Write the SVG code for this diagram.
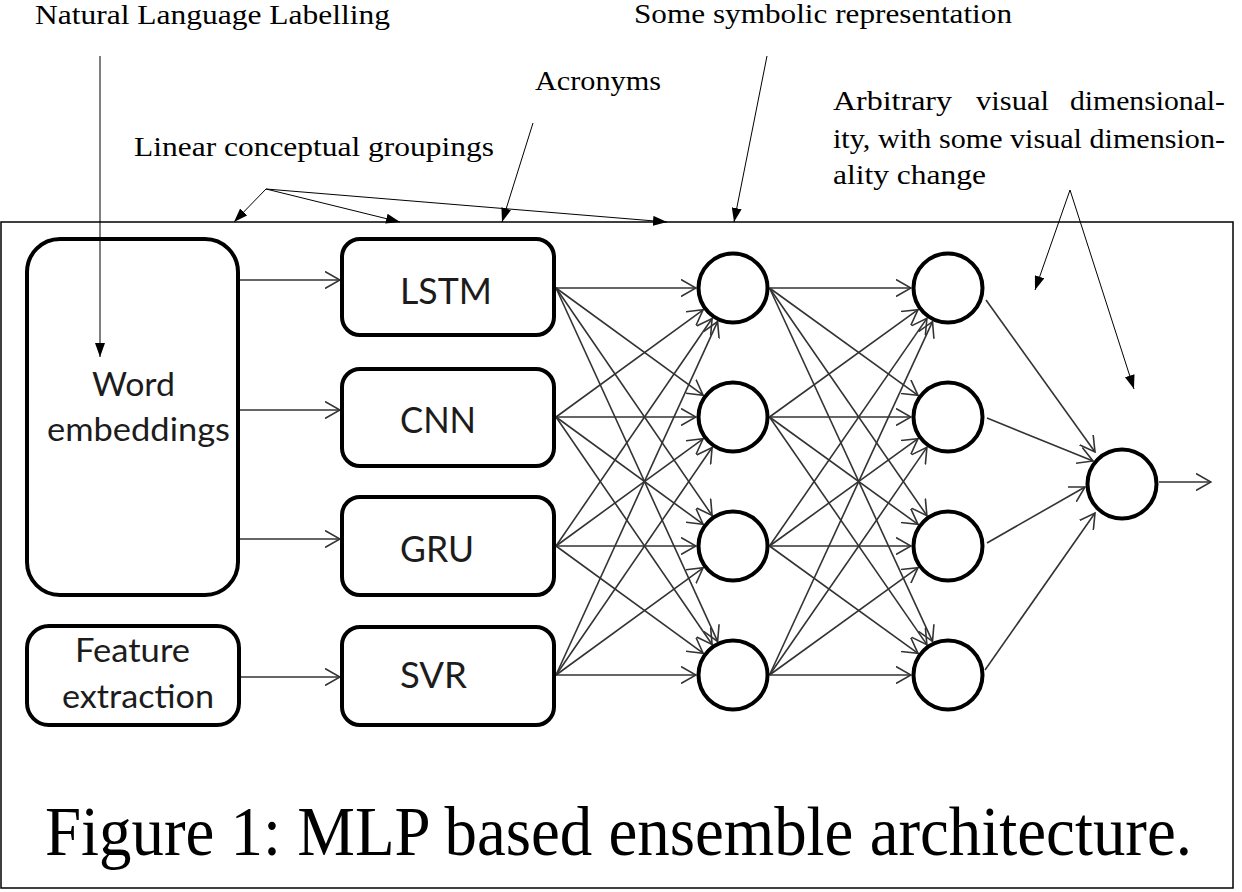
<svg xmlns="http://www.w3.org/2000/svg" width="1242" height="892" viewBox="0 0 1242 892">
<defs>
<style>
.frame{fill:none;stroke:#000;stroke-width:1.5}
.box{fill:#fff;stroke:#000;stroke-width:4}
.neuron{fill:#fff;stroke:#000;stroke-width:4}
.lbl{font-family:Lato,"Open Sans","Liberation Sans",sans-serif;font-size:33px;fill:#1c1c1c;text-anchor:start}
.ann{font-family:"Liberation Serif","Times New Roman",serif;font-size:27px;fill:#000}
.cap{font-family:"Liberation Serif","Times New Roman",serif;font-size:64px;fill:#000}
.edge{stroke:#333;stroke-width:1.6;fill:none;marker-end:url(#open)}
.note{stroke:#000;stroke-width:1;fill:none;marker-end:url(#solid)}
</style>
<marker id="open" markerUnits="userSpaceOnUse" viewBox="0 0 16 18" refX="15" refY="9" markerWidth="16" markerHeight="18" orient="auto">
<path d="M0,0.5 L15,9 L0,17.5" fill="none" stroke="#333" stroke-width="1.6"/>
</marker>
<marker id="solid" markerUnits="userSpaceOnUse" viewBox="0 0 14 10" refX="14" refY="5" markerWidth="14" markerHeight="10" orient="auto">
<path d="M0,0 L14,5 L0,10 z" fill="#000"/>
</marker>
</defs>
<rect width="1242" height="892" fill="#fff"/>
<rect class="frame" x="1" y="222" width="1232" height="666"/>

<g id="connectors">
<line class="edge" x1="240" y1="280" x2="340" y2="280"/>
<line class="edge" x1="240" y1="410" x2="340" y2="410"/>
<line class="edge" x1="240" y1="539" x2="340" y2="539"/>
<line class="edge" x1="241" y1="677" x2="340" y2="677"/>

<line class="edge" x1="556" y1="288" x2="696" y2="288"/>
<line class="edge" x1="556" y1="288" x2="703.1" y2="395.2"/>
<line class="edge" x1="556" y1="288" x2="712.1" y2="515.5"/>
<line class="edge" x1="556" y1="288" x2="717.6" y2="641.4"/>
<line class="edge" x1="556" y1="417" x2="703.1" y2="309.8"/>
<line class="edge" x1="556" y1="417" x2="696" y2="417"/>
<line class="edge" x1="556" y1="417" x2="703.1" y2="524.2"/>
<line class="edge" x1="556" y1="417" x2="712.1" y2="644.5"/>
<line class="edge" x1="556" y1="546" x2="712.1" y2="318.5"/>
<line class="edge" x1="556" y1="546" x2="703.1" y2="438.8"/>
<line class="edge" x1="556" y1="546" x2="696" y2="546"/>
<line class="edge" x1="556" y1="546" x2="703.1" y2="653.2"/>
<line class="edge" x1="556" y1="675" x2="717.6" y2="321.6"/>
<line class="edge" x1="556" y1="675" x2="712.1" y2="447.5"/>
<line class="edge" x1="556" y1="675" x2="703.1" y2="567.8"/>
<line class="edge" x1="556" y1="675" x2="696" y2="675"/>

<line class="edge" x1="769.5" y1="288" x2="911" y2="288"/>
<line class="edge" x1="769.5" y1="288" x2="918" y2="395.4"/>
<line class="edge" x1="769.5" y1="288" x2="926.9" y2="515.6"/>
<line class="edge" x1="769.5" y1="288" x2="932.5" y2="641.4"/>
<line class="edge" x1="769.5" y1="417" x2="918" y2="309.6"/>
<line class="edge" x1="769.5" y1="417" x2="911" y2="417"/>
<line class="edge" x1="769.5" y1="417" x2="918" y2="524.4"/>
<line class="edge" x1="769.5" y1="417" x2="926.9" y2="644.6"/>
<line class="edge" x1="769.5" y1="546" x2="926.9" y2="318.4"/>
<line class="edge" x1="769.5" y1="546" x2="918" y2="438.6"/>
<line class="edge" x1="769.5" y1="546" x2="911" y2="546"/>
<line class="edge" x1="769.5" y1="546" x2="918" y2="653.4"/>
<line class="edge" x1="769.5" y1="675" x2="932.5" y2="321.6"/>
<line class="edge" x1="769.5" y1="675" x2="926.9" y2="447.4"/>
<line class="edge" x1="769.5" y1="675" x2="918" y2="567.6"/>
<line class="edge" x1="769.5" y1="675" x2="911" y2="675"/>

<line class="edge" x1="986" y1="300" x2="1095" y2="452"/>
<line class="edge" x1="987" y1="418" x2="1093" y2="461"/>
<line class="edge" x1="987" y1="543" x2="1085" y2="487"/>
<line class="edge" x1="985" y1="670" x2="1095" y2="513"/>

<line class="edge" x1="1159" y1="482" x2="1211" y2="482"/>
</g>

<g id="word-embeddings">
<rect class="box" x="27" y="239" width="211" height="356" rx="33"/>
<text class="lbl" x="92" y="396" textLength="83" lengthAdjust="spacingAndGlyphs">Word</text>
<text class="lbl" x="47" y="441" textLength="183" lengthAdjust="spacingAndGlyphs">embeddings</text>
</g>
<g id="feature-extraction">
<rect class="box" x="27" y="626" width="212" height="99" rx="22"/>
<text class="lbl" x="75" y="662" textLength="115" lengthAdjust="spacingAndGlyphs">Feature</text>
<text class="lbl" x="62" y="708" textLength="152" lengthAdjust="spacingAndGlyphs">extraction</text>
</g>
<g id="lstm">
<rect class="box" x="342" y="239" width="212" height="96" rx="18"/>
<text class="lbl" x="400" y="304" style="font-size:36px" textLength="92" lengthAdjust="spacingAndGlyphs">LSTM</text>
</g>
<g id="cnn">
<rect class="box" x="342" y="369" width="212" height="97" rx="18"/>
<text class="lbl" x="400" y="433" style="font-size:36px" textLength="76" lengthAdjust="spacingAndGlyphs">CNN</text>
</g>
<g id="gru">
<rect class="box" x="342" y="497" width="212" height="98" rx="18"/>
<text class="lbl" x="400" y="562" style="font-size:36px" textLength="74" lengthAdjust="spacingAndGlyphs">GRU</text>
</g>
<g id="svr">
<rect class="box" x="342" y="627" width="212" height="98" rx="18"/>
<text class="lbl" x="400" y="688" style="font-size:36px" textLength="67" lengthAdjust="spacingAndGlyphs">SVR</text>
</g>

<g id="h1-1"><circle class="neuron" cx="733" cy="288" r="34.5"/></g>
<g id="h1-2"><circle class="neuron" cx="733" cy="417" r="34.5"/></g>
<g id="h1-3"><circle class="neuron" cx="733" cy="546" r="34.5"/></g>
<g id="h1-4"><circle class="neuron" cx="733" cy="675" r="34.5"/></g>
<g id="h2-1"><circle class="neuron" cx="948" cy="288" r="34.5"/></g>
<g id="h2-2"><circle class="neuron" cx="948" cy="417" r="34.5"/></g>
<g id="h2-3"><circle class="neuron" cx="948" cy="546" r="34.5"/></g>
<g id="h2-4"><circle class="neuron" cx="948" cy="675" r="34.5"/></g>
<g id="output"><circle class="neuron" cx="1122" cy="484" r="34.5"/></g>

<g id="annotation-connectors">
<line class="note" x1="100" y1="56" x2="100" y2="357"/>
<line class="note" x1="266" y1="189" x2="234" y2="222"/>
<line class="note" x1="266" y1="189" x2="400" y2="222"/>
<line class="note" x1="266" y1="189" x2="667" y2="222"/>
<line class="note" x1="533" y1="123" x2="502" y2="222"/>
<line class="note" x1="767" y1="56" x2="734" y2="222"/>
<line class="note" x1="1070" y1="190" x2="1035" y2="290"/>
<line class="note" x1="1070" y1="190" x2="1134" y2="389"/>
</g>

<g id="ann-natural-language">
<text class="ann" x="35" y="24" textLength="355" lengthAdjust="spacingAndGlyphs">Natural Language Labelling</text>
</g>
<g id="ann-symbolic">
<text class="ann" x="634" y="23" textLength="378" lengthAdjust="spacingAndGlyphs">Some symbolic representation</text>
</g>
<g id="ann-acronyms">
<text class="ann" x="535" y="90" textLength="126" lengthAdjust="spacingAndGlyphs">Acronyms</text>
</g>
<g id="ann-linear">
<text class="ann" x="134" y="156" textLength="360" lengthAdjust="spacingAndGlyphs">Linear conceptual groupings</text>
</g>
<g id="ann-arbitrary">
<text class="ann" x="833" y="110" textLength="119" lengthAdjust="spacingAndGlyphs">Arbitrary</text>
<text class="ann" x="976" y="110" textLength="73" lengthAdjust="spacingAndGlyphs">visual</text>
<text class="ann" x="1070" y="110" textLength="155" lengthAdjust="spacingAndGlyphs">dimensional-</text>
<text class="ann" x="833" y="148" textLength="392" lengthAdjust="spacingAndGlyphs">ity, with some visual dimension-</text>
<text class="ann" x="833" y="184" textLength="153" lengthAdjust="spacingAndGlyphs">ality change</text>
</g>

<g id="caption">
<text class="cap" transform="translate(45,855) scale(1,1.1)" x="0" y="0" textLength="1147" lengthAdjust="spacingAndGlyphs">Figure 1: MLP based ensemble architecture.</text>
</g>
</svg>
